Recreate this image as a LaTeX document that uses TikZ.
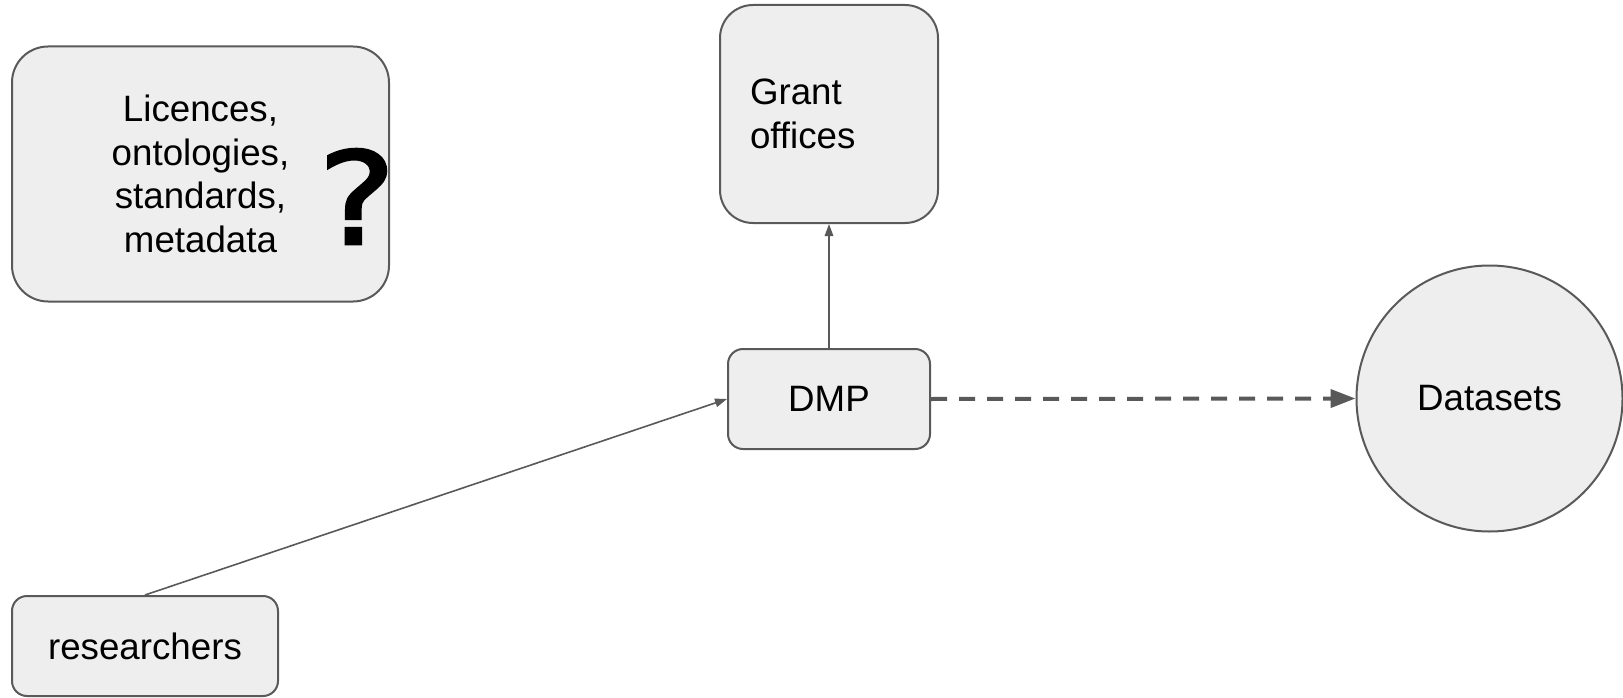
\documentclass[tikz,border=0pt]{standalone}
\usepackage{fontspec}
\setmainfont{Liberation Sans}
\newfontfamily\qfont[FakeBold=2]{DejaVu Sans}
\usetikzlibrary{arrows.meta}
\definecolor{boxfill}{HTML}{EEEEEE}
\definecolor{edge}{HTML}{595959}
\tikzset{
  rbox/.style={draw=edge, fill=boxfill, line width=2pt, inner sep=0pt, font=\fontsize{36.7}{43.5}\selectfont},
  thinarrow/.style={draw=edge, line width=1.6pt, -{Triangle[length=12pt, width=8.5pt]}},
  dasharrow/.style={draw=edge, line width=4pt, dash pattern=on 16pt off 12pt, -{Triangle[length=25pt, width=18pt]}}
}
\begin{document}
\begin{tikzpicture}[x=1pt, y=-1pt]
\useasboundingbox (0,0) rectangle (1623,698);
\node[rbox, rounded corners=36pt, minimum width=377pt, minimum height=255pt, align=center] (lic) at (200.5,174) {Licences,\\ontologies,\\standards,\\metadata};
\node[inner sep=0pt, anchor=base, xscale=1.15, font=\qfont\fontsize{128}{128}\selectfont] (q) at (357,244) {?};
\node[rbox, rounded corners=33pt, minimum width=218pt, minimum height=218pt, text width=158pt, align=left] (grant) at (829,114) {Grant\\offices};
\node[rbox, rounded corners=15pt, minimum width=202pt, minimum height=100pt] (dmp) at (829,399) {DMP};
\node[rbox, circle, minimum size=266pt] (data) at (1489.5,398.5) {Datasets};
\node[rbox, rounded corners=15pt, minimum width=266pt, minimum height=100pt] (res) at (145,646) {researchers};
\draw[thinarrow] (res.north) -- (dmp.west);
\draw[thinarrow] (dmp.north) -- (grant.south);
\draw[dasharrow] (dmp.east) -- (data.west);
\end{tikzpicture}
\end{document}
